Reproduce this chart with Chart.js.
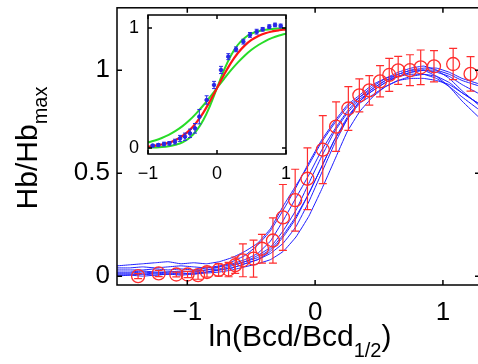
<!DOCTYPE html>
<html>
<head>
<meta charset="utf-8">
<script src="https://cdn.jsdelivr.net/npm/chart.js@4"></script>
<style>
  html, body { margin:0; padding:0; background:#fff; overflow:hidden; width:478px; height:364px; }
  #mainWrap { position:absolute; left:0; top:0; width:490px; height:364px; }
  #insetWrap { position:absolute; left:110px; top:0; width:190px; height:185px; }
</style>
</head>
<body>
<div id="mainWrap"><canvas id="mainChart"></canvas></div>
<div id="insetWrap"><canvas id="insetChart"></canvas></div>
<script>
// ===== main panel: mean profile (red) =====
const meanX   = [-1.385,-1.224,-1.086,-0.998,-0.916,-0.846,-0.755,-0.677,-0.625,-0.565,-0.482,-0.416,-0.33,-0.252,-0.156,-0.06,0.06,0.164,0.26,0.346,0.424,0.508,0.58,0.65,0.742,0.826,0.93,1.08,1.216];
const meanY   = [0.0,0.013,0.008,0.008,0.005,0.02,0.03,0.032,0.053,0.077,0.085,0.133,0.173,0.285,0.369,0.473,0.614,0.726,0.814,0.878,0.902,0.946,0.977,0.999,1.0,1.014,1.019,1.03,0.982];
const meanErr = [0.012,0.015,0.012,0.015,0.02,0.025,0.03,0.035,0.04,0.08,0.09,0.07,0.11,0.16,0.15,0.15,0.165,0.12,0.106,0.08,0.072,0.076,0.08,0.068,0.075,0.084,0.076,0.076,0.084];

// ===== main panel: single embryos (blue) =====
const embryoX = [-1.55,-1.45,-1.35,-1.25,-1.15,-1.05,-0.95,-0.85,-0.75,-0.65,-0.55,-0.45,-0.35,-0.25,-0.15,-0.05,0.05,0.15,0.25,0.35,0.45,0.55,0.65,0.75,0.85,0.95,1.05,1.15,1.3];
const embryo1 = [0.05,0.055,0.06,0.065,0.07,0.06,0.065,0.06,0.07,0.09,0.12,0.16,0.23,0.34,0.44,0.54,0.65,0.74,0.82,0.87,0.91,0.95,0.97,0.98,0.98,0.96,0.92,0.87,0.8];
const embryo2 = [0.04,0.04,0.045,0.04,0.045,0.05,0.045,0.04,0.05,0.06,0.08,0.11,0.17,0.27,0.38,0.49,0.61,0.71,0.8,0.87,0.92,0.96,0.99,1.01,1.02,1.0,0.96,0.9,0.82];
const embryo3 = [0.02,0.02,0.025,0.02,0.02,0.025,0.02,0.03,0.035,0.05,0.07,0.1,0.14,0.22,0.32,0.45,0.58,0.7,0.79,0.86,0.9,0.94,0.97,0.99,1.0,0.99,0.97,0.93,0.88];
const embryo4 = [0.01,0.01,0.01,0.015,0.01,0.01,0.015,0.02,0.03,0.04,0.06,0.08,0.11,0.16,0.24,0.36,0.5,0.64,0.76,0.85,0.9,0.94,0.97,0.99,1.0,1.0,0.98,0.95,0.92];
const embryo5 = [0.0,0.005,0.0,0.005,0.01,0.005,0.01,0.015,0.02,0.03,0.045,0.06,0.08,0.12,0.19,0.29,0.42,0.56,0.7,0.8,0.87,0.92,0.95,0.97,0.98,0.97,0.94,0.89,0.83];
const embryo6 = [0.015,0.015,0.02,0.015,0.02,0.02,0.025,0.03,0.045,0.07,0.1,0.15,0.22,0.32,0.43,0.55,0.66,0.75,0.83,0.88,0.93,0.96,0.98,1.0,1.0,0.97,0.92,0.85,0.76];
const embryo7 = [0.03,0.03,0.03,0.035,0.03,0.035,0.03,0.04,0.045,0.055,0.07,0.09,0.13,0.2,0.29,0.4,0.53,0.66,0.76,0.84,0.88,0.92,0.95,0.96,0.96,0.95,0.93,0.89,0.83];
const embryo8 = [0.005,0.005,0.01,0.005,0.01,0.015,0.01,0.02,0.03,0.04,0.06,0.08,0.12,0.19,0.28,0.4,0.53,0.66,0.77,0.85,0.91,0.95,0.98,1.0,1.01,1.01,0.99,0.96,0.93];
const embryos = [embryo1, embryo2, embryo3, embryo4, embryo5, embryo6, embryo7, embryo8];

const mainXTicks = [-1, 0, 1];
const mainYTicks = [0, 0.5, 1];

// ===== inset =====
const fitX      = [-1,-0.9,-0.8,-0.7,-0.6,-0.5,-0.4,-0.3,-0.2,-0.1,0,0.1,0.2,0.3,0.4,0.5,0.6,0.7,0.8,0.9,1];
const fitRed    = [0.012,0.019,0.029,0.044,0.067,0.10,0.147,0.211,0.293,0.392,0.5,0.608,0.707,0.789,0.853,0.90,0.933,0.956,0.971,0.981,0.988];
const fitSteep  = [0.0025,0.0045,0.008,0.015,0.027,0.047,0.083,0.142,0.231,0.354,0.5,0.646,0.769,0.858,0.917,0.953,0.973,0.985,0.992,0.9955,0.9975];
const fitShallow= [0.047,0.063,0.083,0.109,0.142,0.182,0.231,0.289,0.354,0.426,0.5,0.574,0.646,0.711,0.769,0.818,0.858,0.891,0.917,0.937,0.953];
const insetPtX  = [-0.932,-0.85,-0.768,-0.69,-0.609,-0.536,-0.464,-0.391,-0.319,-0.256,-0.15,-0.043,0.058,0.164,0.275,0.382,0.478,0.575,0.662,0.758,0.841,0.923];
const insetPtY  = [0.02,0.025,0.033,0.039,0.053,0.08,0.094,0.122,0.164,0.261,0.4,0.525,0.65,0.761,0.822,0.886,0.942,0.969,0.989,1.011,1.025,1.017];
const insetPtErr= [0.01,0.012,0.015,0.015,0.02,0.025,0.03,0.035,0.04,0.06,0.035,0.03,0.03,0.025,0.02,0.02,0.02,0.02,0.015,0.015,0.015,0.015];
const insetXTicks = [-1, 0, 1];
const insetYTicks = [0, 1];

const RED = 'rgb(255,45,45)';
const BLUE = 'rgb(30,30,255)';
const GREEN = 'rgb(40,220,40)';
const FONT = "'Liberation Sans', Arial, Helvetica, sans-serif";

function pts(xs, ys) { return xs.map((x, i) => ({ x: x, y: ys[i] })); }
function fmt(v) { return v < 0 ? '\u2212' + Math.abs(v) : String(v); }
function noPad(s) { s.paddingTop = 0; s.paddingBottom = 0; s.paddingLeft = 0; s.paddingRight = 0; }

/* ================= PLUGINS ================= */
const errorBars = {
  id: 'errorBars',
  afterDatasetsDraw(chart) {
    const ctx = chart.ctx, xs = chart.scales.x, ys = chart.scales.y;
    ctx.save();
    chart.data.datasets.forEach(ds => {
      if (!ds.errs) return;
      ctx.strokeStyle = ds.borderColor;
      ctx.lineWidth = ds.errWidth || 1;
      const cap = ds.capHalf || 4;
      ds.data.forEach((p, i) => {
        const px = xs.getPixelForValue(p.x);
        const top = ys.getPixelForValue(p.y + ds.errs[i]);
        const bot = ys.getPixelForValue(p.y - ds.errs[i]);
        ctx.beginPath();
        ctx.moveTo(px, top); ctx.lineTo(px, bot);
        ctx.moveTo(px - cap, top); ctx.lineTo(px + cap, top);
        ctx.moveTo(px - cap, bot); ctx.lineTo(px + cap, bot);
        ctx.stroke();
      });
    });
    ctx.restore();
  }
};

const boxTicks = {
  id: 'boxTicks',
  beforeDatasetsDraw(chart, args, opts) {
    if (!opts.fill) return;
    const a = chart.chartArea;
    chart.ctx.save();
    chart.ctx.fillStyle = opts.fill;
    chart.ctx.fillRect(a.left, a.top, a.right - a.left, a.bottom - a.top);
    chart.ctx.restore();
  },
  afterDraw(chart, args, opts) {
    const ctx = chart.ctx, a = chart.chartArea, xs = chart.scales.x, ys = chart.scales.y;
    const L = opts.len || 5;
    ctx.save();
    ctx.strokeStyle = '#000';
    ctx.lineWidth = opts.width || 1.5;
    ctx.strokeRect(a.left, a.top, a.right - a.left, a.bottom - a.top);
    ctx.beginPath();
    xs.ticks.forEach(t => {
      const px = xs.getPixelForValue(t.value);
      ctx.moveTo(px, a.bottom); ctx.lineTo(px, a.bottom - L);
      ctx.moveTo(px, a.top); ctx.lineTo(px, a.top + L);
    });
    ys.ticks.forEach(t => {
      const py = ys.getPixelForValue(t.value);
      ctx.moveTo(a.left, py); ctx.lineTo(a.left + L, py);
      ctx.moveTo(a.right, py); ctx.lineTo(a.right - L, py);
    });
    ctx.stroke();
    ctx.restore();
  }
};

// axis titles with subscripts
const axisTitles = {
  id: 'axisTitles',
  afterDraw(chart) {
    const ctx = chart.ctx;
    ctx.save();
    ctx.fillStyle = '#000';
    ctx.textBaseline = 'alphabetic';
    const big = '30px ' + FONT, small = '20px ' + FONT;

    // x title: ln(Bcd/Bcd_{1/2})
    ctx.font = big;
    const w1 = ctx.measureText('ln(Bcd/Bcd').width;
    const w3 = ctx.measureText(')').width;
    ctx.font = small;
    const w2 = ctx.measureText('1/2').width;
    let x0 = 300 - (w1 + w2 + w3) / 2;
    const base = 346;
    ctx.font = big; ctx.fillText('ln(Bcd/Bcd', x0, base);
    ctx.font = small; ctx.fillText('1/2', x0 + w1, base + 11);
    ctx.font = big; ctx.fillText(')', x0 + w1 + w2, base);

    // y title: Hb/Hb_{max}
    ctx.translate(37, 148);
    ctx.rotate(-Math.PI / 2);
    ctx.font = big;
    const h1 = ctx.measureText('Hb/Hb').width;
    ctx.font = small;
    const h2 = ctx.measureText('max').width;
    const s = -(h1 + h2) / 2;
    ctx.font = big; ctx.fillText('Hb/Hb', s, 0);
    ctx.font = small; ctx.fillText('max', s + h1, 10);
    ctx.restore();
  }
};

/* ================= MAIN CHART ================= */
const mainDatasets = [{
  label: 'mean',
  data: pts(meanX, meanY),
  errs: meanErr,
  errWidth: 1.2,
  capHalf: 4,
  showLine: false,
  borderColor: RED,
  backgroundColor: 'rgba(0,0,0,0)',
  pointRadius: 6.5,
  pointBorderWidth: 1.3,
  order: 0
}];
embryos.forEach((e, i) => {
  mainDatasets.push({
    label: 'embryo ' + (i + 1),
    data: pts(embryoX, e),
    showLine: true,
    borderColor: BLUE,
    borderWidth: 1,
    pointRadius: 0,
    tension: 0.1,
    order: 1
  });
});

new Chart(document.getElementById('mainChart'), {
  type: 'scatter',
  data: { datasets: mainDatasets },
  options: {
    responsive: true,
    maintainAspectRatio: false,
    animation: false,
    layout: { padding: { top: 5, right: 10, left: 0, bottom: 0 } },
    plugins: { legend: { display: false }, tooltip: { enabled: false },
               boxTicks: { len: 5, width: 1.5 } },
    scales: {
      x: {
        type: 'linear', min: -1.55, max: 1.29,
        afterBuildTicks: s => { s.ticks = mainXTicks.map(v => ({ value: v })); },
        afterFit: s => { s.height = 79; noPad(s); },
        grid: { display: false, drawTicks: false },
        border: { display: false },
        ticks: { padding: 12, color: '#000', font: { size: 26, family: FONT }, callback: v => fmt(v) }
      },
      y: {
        type: 'linear', min: -0.043, max: 1.303,
        afterBuildTicks: s => { s.ticks = mainYTicks.map(v => ({ value: v })); },
        afterFit: s => { s.width = 117; noPad(s); },
        grid: { display: false, drawTicks: false },
        border: { display: false },
        ticks: { padding: 7, color: '#000', font: { size: 26, family: FONT }, callback: v => fmt(v) }
      }
    }
  },
  plugins: [errorBars, boxTicks, axisTitles]
});

/* ================= INSET ================= */
new Chart(document.getElementById('insetChart'), {
  type: 'scatter',
  data: {
    datasets: [
      { label: 'data', data: pts(insetPtX, insetPtY), errs: insetPtErr, errWidth: 1, capHalf: 2,
        showLine: false, borderColor: 'rgb(40,40,230)', backgroundColor: 'rgb(40,40,230)',
        pointRadius: 1.8, order: 0 },
      { label: 'fit', data: pts(fitX, fitRed), showLine: true, borderColor: 'rgb(255,20,20)',
        borderWidth: 2.2, pointRadius: 0, tension: 0.4, order: 1 },
      { label: 'steep', data: pts(fitX, fitSteep), showLine: true, borderColor: GREEN,
        borderWidth: 2, pointRadius: 0, tension: 0.4, order: 2 },
      { label: 'shallow', data: pts(fitX, fitShallow), showLine: true, borderColor: GREEN,
        borderWidth: 2, pointRadius: 0, tension: 0.4, order: 2 }
    ]
  },
  options: {
    responsive: true,
    maintainAspectRatio: false,
    animation: false,
    layout: { padding: { top: 15, right: 14, left: 0, bottom: 0 } },
    plugins: { legend: { display: false }, tooltip: { enabled: false },
               boxTicks: { len: 4, width: 1.5, fill: '#fff' } },
    scales: {
      x: {
        type: 'linear', min: -1, max: 1,
        afterBuildTicks: s => { s.ticks = insetXTicks.map(v => ({ value: v })); },
        afterFit: s => { s.height = 31; noPad(s); },
        grid: { display: false, drawTicks: false },
        border: { display: false },
        ticks: { padding: 9, color: '#000', font: { size: 18, family: FONT }, callback: v => fmt(v) }
      },
      y: {
        type: 'linear', min: -0.05, max: 1.108,
        afterBuildTicks: s => { s.ticks = insetYTicks.map(v => ({ value: v })); },
        afterFit: s => { s.width = 38; noPad(s); },
        grid: { display: false, drawTicks: false },
        border: { display: false },
        ticks: { padding: 9, color: '#000', font: { size: 18, family: FONT }, callback: v => fmt(v) }
      }
    }
  },
  plugins: [errorBars, boxTicks]
});
</script>
</body>
</html>
